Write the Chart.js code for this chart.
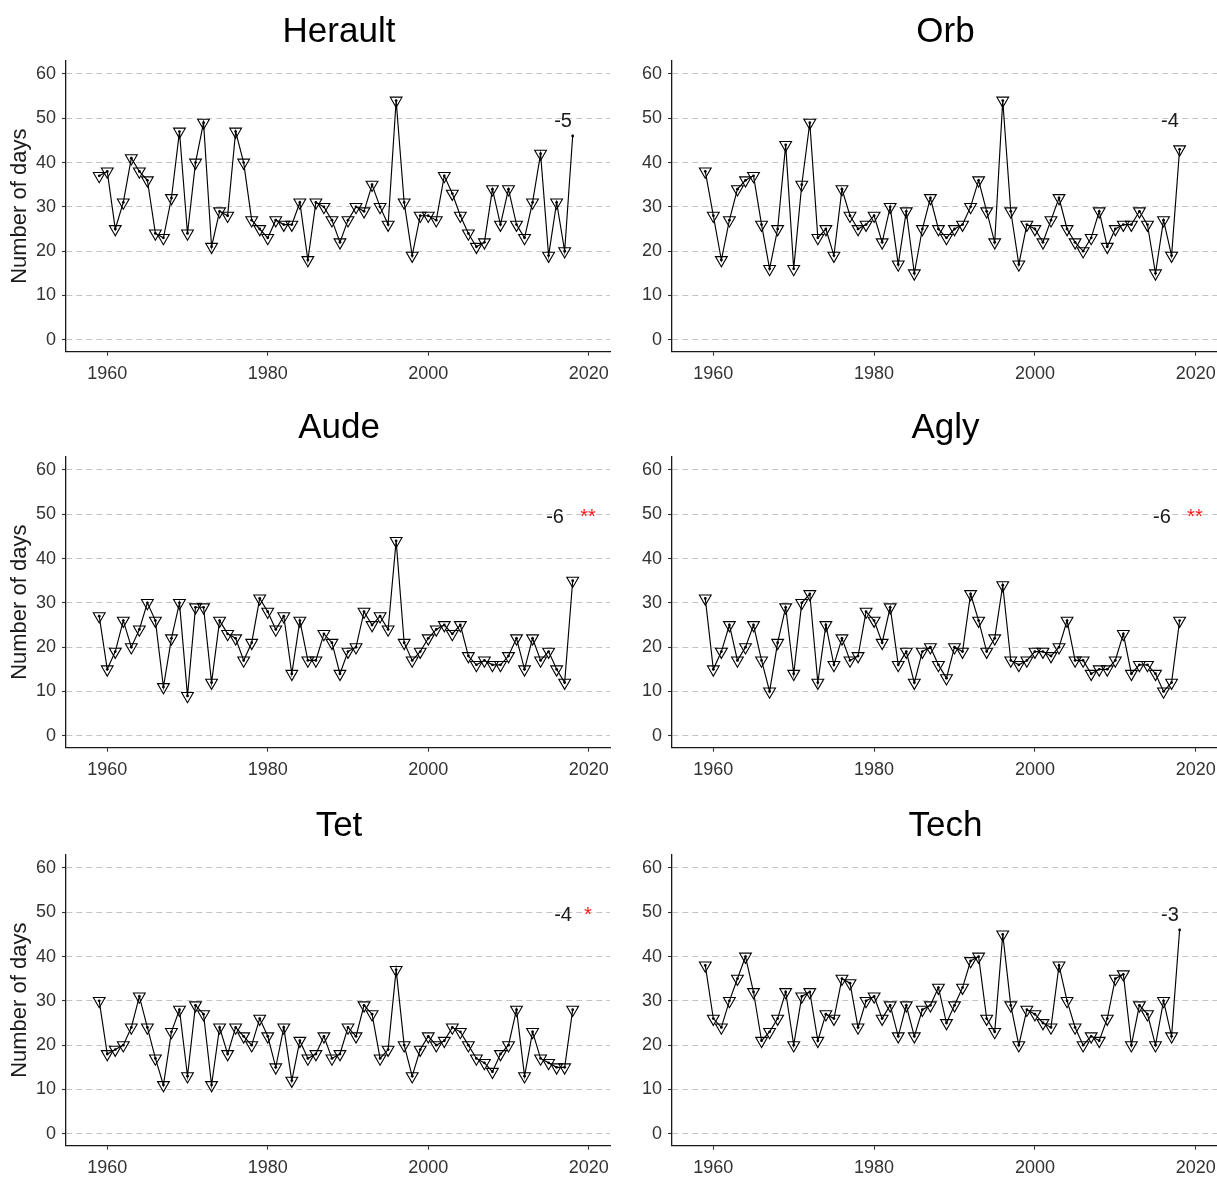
<!DOCTYPE html>
<html><head><meta charset="utf-8">
<script src="https://cdn.jsdelivr.net/npm/chart.js@4/dist/chart.umd.min.js"></script>
<style>
html,body{margin:0;padding:0;background:#fff;width:1217px;height:1178px;overflow:hidden;position:relative;}
canvas{position:absolute;}
</style></head><body>
<canvas id="c0"></canvas><canvas id="c1"></canvas><canvas id="c2"></canvas>
<canvas id="c3"></canvas><canvas id="c4"></canvas><canvas id="c5"></canvas>
<script>
const years = [1959,1960,1961,1962,1963,1964,1965,1966,1967,1968,1969,1970,1971,1972,1973,1974,1975,1976,1977,1978,
  1979,1980,1981,1982,1983,1984,1985,1986,1987,1988,1989,1990,1991,1992,1993,1994,1995,1996,1997,1998,
  1999,2000,2001,2002,2003,2004,2005,2006,2007,2008,2009,2010,2011,2012,2013,2014,2015,2016,2017,2018];
const herault = [37,38,25,31,41,38,36,24,23,32, 47,24,40,49,21,29,28,47,40,27, 25,23,27,26,26,31,18,31,30,27,
  22,27,30,29,35,30,26,54,31,19, 28,28,27,37,33,28,24,21,22,34, 26,34,26,23,31,42,19,31,20,46];
const orb = [38,28,18,27,34,36,37,26,16,25, 44,16,35,49,23,25,19,34,28,25, 26,28,22,30,17,29,15,25,32,25,
  23,25,26,30,36,29,22,54,29,17, 26,25,22,27,32,25,22,20,23,29, 21,25,26,26,29,26,15,27,19,43];
const aude = [27,15,19,26,20,24,30,26,11,22, 30,9,29,29,12,26,23,22,17,21, 31,28,24,27,14,26,17,17,23,21,
  14,19,20,28,25,27,24,44,21,17, 19,22,24,25,23,25,18,16,17,16, 16,18,22,15,22,17,19,15,12,35];
const agly = [31,15,19,25,17,20,25,17,10,21, 29,14,30,32,12,25,16,22,17,18, 28,26,21,29,16,19,12,19,20,16,
  13,20,19,32,26,19,22,34,17,16, 17,19,19,18,20,26,17,17,14,15, 15,17,23,14,16,16,14,10,12,26];
const tet = [30,18,19,20,24,31,24,17,11,23, 28,13,29,27,11,24,18,24,22,20, 26,22,15,24,12,21,17,18,22,17,
  18,24,22,29,27,17,19,37,20,13, 19,22,20,21,24,23,20,17,16,14, 18,20,28,13,23,17,16,15,15,28];
const tech = [38,26,24,30,35,40,32,21,23,26, 32,20,31,32,21,27,26,35,34,24, 30,31,26,29,22,29,22,28,29,33,
  25,29,33,39,40,26,23,45,29,20, 28,27,25,24,38,30,24,20,22,21, 26,35,36,20,29,27,20,30,22,46];

const titles = ['Herault','Orb','Aude','Agly','Tet','Tech'];
const series = [herault, orb, aude, agly, tet, tech];
const trendLabels = ['-5','-4','-6','-6','-4','-3'];
const trendLabelYears = [2016.8, 2016.8, 2015.8, 2015.8, 2016.8, 2016.8];
const signifLabels = ['', '', '**', '**', '*', ''];
const lastTriangle = [false, true, true, true, true, false];
const yearTicks = [1960, 1980, 2000, 2020];
const dayTicks = [0, 10, 20, 30, 40, 50, 60];
const yAxisTitle = 'Number of days';

Chart.defaults.font.family = "'Liberation Sans', Arial, sans-serif";

const colLeft = [0, 612], colWidth = [612, 605], yScaleW = [66, 60], padRight = [2, 0];
const rowTop = [0, 396, 794], canvasH = 384, plotTop = 60.7, plotBottom = 351.7;

const overlay = {
  id: 'overlay',
  afterDatasetsDraw(chart, args, opts) {
    const {ctx, chartArea, scales} = chart;
    ctx.save();
    ctx.fillStyle = '#000';
    ctx.font = "35px 'Liberation Sans', Arial, sans-serif";
    ctx.textAlign = 'center';
    ctx.textBaseline = 'alphabetic';
    ctx.fillText(opts.title, (chartArea.left + chartArea.right) / 2 + 1, chartArea.top - 18.5);
    ctx.font = "20px 'Liberation Sans', Arial, sans-serif";
    ctx.textBaseline = 'middle';
    const y = scales.y.getPixelForValue(49.3);
    ctx.fillStyle = '#1a1a1a';
    ctx.fillText(opts.trend, scales.x.getPixelForValue(opts.trendX), y);
    if (opts.sig) {
      ctx.fillStyle = '#ff1a1a';
      ctx.fillText(opts.sig, scales.x.getPixelForValue(2019.9), y);
    }
    ctx.restore();
  }
};

series.forEach((vals, i) => {
  const col = i % 2, row = Math.floor(i / 2);
  const cv = document.getElementById('c' + i);
  cv.width = colWidth[col]; cv.height = canvasH;
  cv.style.left = colLeft[col] + 'px'; cv.style.top = rowTop[row] + 'px';
  cv.style.width = colWidth[col] + 'px'; cv.style.height = canvasH + 'px';
  const pts = years.map((yr, k) => ({x: yr, y: vals[k]}));
  const showLastTri = lastTriangle[i];
  new Chart(cv, {
    type: 'line',
    data: {datasets: [
      {data: pts, borderColor: '#000', borderWidth: 1.15, tension: 0, fill: false,
       pointStyle: 'triangle', pointRotation: 180,
       pointRadius: c => (!showLastTri && c.dataIndex === years.length - 1) ? 0 : 6.8,
       pointBorderColor: '#000', pointBorderWidth: 1.1, pointBackgroundColor: 'rgba(0,0,0,0)',
       pointHoverRadius: 0},
      {data: pts, showLine: false, pointRadius: 1.4, pointStyle: 'circle',
       pointBackgroundColor: '#000', pointBorderWidth: 0, borderColor: '#000', pointHoverRadius: 0}
    ]},
    options: {
      responsive: false, animation: false, devicePixelRatio: 1, events: [],
      layout: {autoPadding: false, padding: {top: plotTop, left: 0, right: padRight[col], bottom: 0}},
      plugins: {legend: {display: false}, tooltip: {enabled: false},
        overlay: {title: titles[i], trend: trendLabels[i], trendX: trendLabelYears[i], sig: signifLabels[i]}},
      scales: {
        x: {type: 'linear', min: 1954.86, max: 2022.65,
          afterBuildTicks: s => { s.ticks = yearTicks.map(v => ({value: v})); },
          afterFit: s => { s.height = canvasH - plotBottom; s.paddingLeft = 0; s.paddingRight = 0; s.paddingTop = 0; s.paddingBottom = 0; },
          ticks: {callback: v => String(v), font: {size: 18}, color: '#333', padding: 8, maxRotation: 0, autoSkip: false},
          grid: {display: true, drawOnChartArea: false, drawTicks: true, tickLength: 4, tickColor: '#333', tickWidth: 1.1, color: '#333'},
          border: {display: true, color: '#1a1a1a', width: 1.3}
        },
        y: {type: 'linear', min: -2.7, max: 63,
          afterBuildTicks: s => { s.ticks = dayTicks.map(v => ({value: v})); },
          afterFit: s => { s.width = yScaleW[col]; s.paddingLeft = 0; s.paddingRight = 0; s.paddingTop = 0; s.paddingBottom = 0; },
          ticks: {callback: v => String(v), font: {size: 18}, color: '#333', padding: 6, autoSkip: false},
          grid: {display: true, drawOnChartArea: true, drawTicks: true, tickLength: 4, tickColor: '#333', tickWidth: 1.1, color: '#c4c4c4', lineWidth: 1},
          border: {display: true, color: '#1a1a1a', width: 1.3, dash: [6, 4]},
          title: {display: col === 0, text: yAxisTitle, font: {size: 22}, color: '#1a1a1a', padding: {top: 7, bottom: 0}}
        }
      }
    },
    plugins: [overlay]
  });
});
</script>
</body></html>
